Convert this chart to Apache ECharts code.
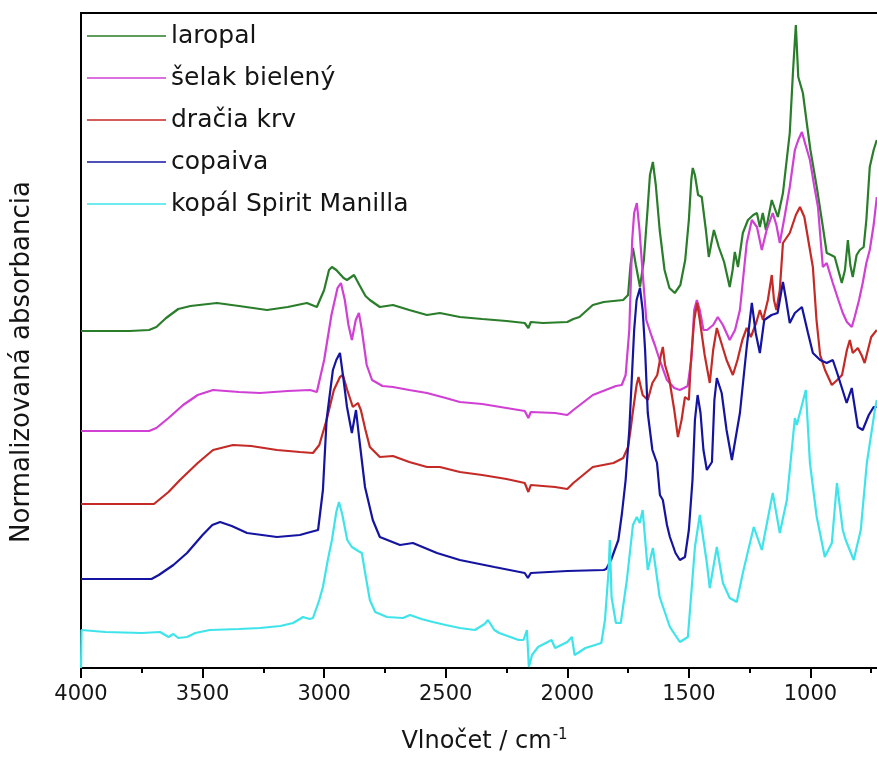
<!DOCTYPE html>
<html>
<head>
<meta charset="utf-8">
<title>FTIR spektrá živíc</title>
<script src="https://cdn.jsdelivr.net/npm/echarts@6/dist/echarts.min.js"></script>
<style>
  html, body { margin: 0; padding: 0; background: #fff; }
  #chart { width: 877px; height: 769px; }
</style>
</head>
<body>
<div id="chart"></div>
<script>
// Series names (legend order)
const seriesNames = ['laropal', 'šelak bielený', 'dračia krv', 'copaiva', 'kopál Spirit Manilla'];
const seriesColors = ['#2a7d2a', '#d040d4', '#c42a26', '#1414a0', '#3ee4ea'];

// Wavenumber axis ticks (cm-1)
const xTicks = [4000, 3500, 3000, 2500, 2000, 1500, 1000];

// Spectra: [wavenumber, normalised absorbance incl. vertical offset]
const laropal = [
  [4000,3.37],[3900,3.37],[3800,3.37],[3720,3.38],[3690,3.41],[3650,3.50],[3600,3.59],[3550,3.62],
  [3441,3.65],[3350,3.62],[3235,3.58],[3150,3.61],[3071,3.65],[3030,3.61],[3000,3.78],[2980,3.98],
  [2968,4.01],[2950,3.98],[2920,3.90],[2906,3.88],[2877,3.93],[2855,3.83],[2830,3.72],[2812,3.68],
  [2771,3.61],[2717,3.63],[2650,3.58],[2577,3.53],[2524,3.55],[2442,3.51],[2350,3.49],[2250,3.47],
  [2175,3.45],[2160,3.40],[2150,3.46],[2100,3.45],[2000,3.46],[1975,3.49],[1950,3.51],[1895,3.63],
  [1850,3.66],[1770,3.68],[1750,3.73],[1740,4.03],[1730,4.20],[1718,4.03],[1701,3.81],[1685,4.08],
  [1670,4.58],[1660,4.93],[1648,5.06],[1636,4.83],[1620,4.38],[1600,3.98],[1580,3.80],[1558,3.75],
  [1535,3.83],[1515,4.08],[1500,4.48],[1490,4.88],[1484,5.00],[1475,4.93],[1462,4.73],[1447,4.71],
  [1430,4.38],[1418,4.11],[1405,4.28],[1397,4.38],[1377,4.21],[1355,4.06],[1332,3.81],[1320,3.98],
  [1311,4.16],[1298,4.01],[1278,4.35],[1257,4.48],[1235,4.53],[1220,4.55],[1208,4.41],[1196,4.55],
  [1183,4.38],[1159,4.68],[1134,4.51],[1113,4.75],[1085,5.35],[1072,5.95],[1060,6.43],[1050,5.91],
  [1031,5.75],[1015,5.45],[1000,5.18],[974,4.81],[950,4.43],[933,4.15],[915,4.13],[900,4.11],
  [880,3.93],[871,3.85],[858,3.98],[846,4.28],[836,4.03],[826,3.91],[810,4.13],[797,4.18],
  [781,4.21],[770,4.48],[756,5.01],[740,5.18],[727,5.28]
];

const selak = [
  [4000,2.37],[3720,2.37],[3690,2.40],[3640,2.50],[3580,2.63],[3520,2.73],[3457,2.78],[3350,2.76],
  [3264,2.75],[3150,2.77],[3058,2.78],[3030,2.76],[3000,3.08],[2970,3.53],[2945,3.80],[2931,3.85],
  [2915,3.68],[2900,3.43],[2886,3.28],[2870,3.48],[2857,3.55],[2845,3.38],[2825,3.03],[2803,2.88],
  [2760,2.82],[2717,2.81],[2650,2.78],[2577,2.75],[2500,2.70],[2442,2.66],[2350,2.64],[2250,2.60],
  [2175,2.57],[2160,2.50],[2150,2.56],[2050,2.55],[2000,2.53],[1975,2.58],[1895,2.73],[1800,2.82],
  [1776,2.83],[1760,2.93],[1745,3.38],[1733,4.28],[1725,4.55],[1714,4.65],[1703,4.38],[1690,3.95],
  [1675,3.48],[1652,3.31],[1640,3.23],[1620,3.08],[1590,2.88],[1560,2.80],[1537,2.78],[1520,2.80],
  [1505,2.82],[1490,3.08],[1478,3.58],[1467,3.68],[1455,3.58],[1440,3.38],[1425,3.38],[1400,3.43],
  [1381,3.51],[1360,3.43],[1332,3.28],[1310,3.38],[1290,3.58],[1262,4.25],[1241,4.48],[1220,4.41],
  [1200,4.18],[1180,4.38],[1155,4.55],[1140,4.43],[1126,4.25],[1105,4.53],[1085,4.81],[1064,5.18],
  [1050,5.28],[1035,5.36],[1020,5.23],[1002,5.08],[985,4.83],[969,4.61],[949,4.01],[933,4.05],
  [908,3.85],[885,3.68],[867,3.55],[850,3.46],[830,3.41],[818,3.51],[800,3.68],[785,3.85],
  [770,4.05],[756,4.18],[740,4.43],[727,4.71]
];

const dracia = [
  [4000,1.64],[3700,1.64],[3680,1.68],[3640,1.76],[3593,1.88],[3520,2.05],[3457,2.18],[3375,2.23],
  [3300,2.22],[3194,2.18],[3100,2.16],[3046,2.15],[3020,2.23],[2990,2.48],[2960,2.78],[2935,2.91],
  [2923,2.93],[2905,2.78],[2882,2.61],[2861,2.65],[2849,2.58],[2830,2.38],[2812,2.21],[2771,2.11],
  [2717,2.12],[2650,2.06],[2577,2.01],[2524,2.01],[2442,1.96],[2350,1.93],[2250,1.89],[2175,1.85],
  [2160,1.76],[2150,1.83],[2050,1.81],[2000,1.79],[1975,1.85],[1895,2.01],[1810,2.05],[1770,2.10],
  [1750,2.21],[1740,2.38],[1731,2.55],[1715,2.83],[1707,2.91],[1690,2.73],[1669,2.68],[1650,2.85],
  [1630,2.93],[1615,3.13],[1607,3.21],[1598,3.03],[1580,2.88],[1560,2.58],[1545,2.31],[1530,2.48],
  [1516,2.71],[1500,2.68],[1492,3.05],[1478,3.48],[1466,3.65],[1455,3.48],[1435,3.13],[1414,2.85],
  [1400,3.18],[1385,3.40],[1370,3.28],[1345,3.08],[1319,2.93],[1300,3.08],[1280,3.28],[1262,3.40],
  [1245,3.31],[1222,3.46],[1208,3.58],[1195,3.48],[1175,3.68],[1159,3.93],[1150,3.68],[1140,3.58],
  [1126,3.78],[1113,4.25],[1085,4.35],[1060,4.53],[1043,4.61],[1025,4.51],[990,4.01],[975,3.48],
  [960,3.13],[940,2.98],[912,2.83],[890,2.88],[870,2.93],[850,3.18],[838,3.28],[826,3.15],
  [805,3.20],[790,3.13],[777,3.05],[750,3.31],[727,3.38]
];

const copaiva = [
  [4000,0.89],[3710,0.89],[3680,0.93],[3620,1.03],[3564,1.15],[3500,1.33],[3460,1.43],[3428,1.46],
  [3380,1.42],[3317,1.35],[3194,1.31],[3100,1.33],[3071,1.35],[3025,1.38],[3005,1.78],[2990,2.48],
  [2964,2.98],[2950,3.08],[2935,3.15],[2920,2.88],[2906,2.61],[2886,2.35],[2869,2.58],[2855,2.28],
  [2832,1.81],[2800,1.48],[2771,1.31],[2688,1.23],[2635,1.25],[2536,1.15],[2442,1.08],[2300,1.01],
  [2175,0.95],[2162,0.90],[2150,0.95],[2000,0.97],[1850,0.98],[1840,0.99],[1820,1.08],[1790,1.28],
  [1775,1.55],[1760,1.88],[1745,2.38],[1735,2.88],[1725,3.38],[1715,3.68],[1701,3.80],[1690,3.58],
  [1680,3.18],[1669,2.55],[1650,2.18],[1631,2.05],[1619,1.73],[1607,1.68],[1590,1.43],[1578,1.31],
  [1555,1.15],[1537,1.08],[1516,1.11],[1500,1.38],[1485,1.88],[1475,2.48],[1464,2.73],[1452,2.55],
  [1440,2.18],[1426,1.98],[1405,2.06],[1395,2.68],[1385,2.90],[1365,2.75],[1345,2.38],[1323,2.08],
  [1290,2.55],[1262,3.21],[1241,3.65],[1225,3.35],[1208,3.15],[1190,3.48],[1160,3.53],[1135,3.55],
  [1113,3.86],[1100,3.68],[1085,3.45],[1064,3.55],[1035,3.61],[1010,3.35],[990,3.15],[960,3.08],
  [933,3.05],[908,3.08],[890,2.95],[851,2.65],[830,2.80],[805,2.41],[785,2.38],[760,2.53],
  [740,2.61],[727,2.61]
];

const kopal = [
  [4000,0.00],[3998,0.38],[3900,0.36],[3750,0.35],[3675,0.36],[3640,0.31],[3620,0.34],[3600,0.30],
  [3564,0.31],[3530,0.35],[3470,0.38],[3350,0.39],[3264,0.40],[3180,0.42],[3128,0.45],[3100,0.49],
  [3087,0.51],[3060,0.49],[3046,0.50],[3020,0.68],[3005,0.81],[2985,1.08],[2968,1.28],[2950,1.56],
  [2939,1.66],[2925,1.53],[2905,1.28],[2886,1.21],[2860,1.17],[2845,1.15],[2830,0.93],[2812,0.68],
  [2790,0.56],[2742,0.51],[2676,0.50],[2647,0.53],[2600,0.49],[2553,0.46],[2500,0.43],[2442,0.40],
  [2380,0.38],[2340,0.44],[2326,0.48],[2300,0.38],[2280,0.35],[2200,0.28],[2180,0.28],[2166,0.38],
  [2158,0.01],[2145,0.13],[2120,0.21],[2065,0.28],[2050,0.20],[2000,0.26],[1981,0.31],[1970,0.13],
  [1925,0.20],[1860,0.25],[1845,0.48],[1830,0.98],[1825,1.28],[1818,0.71],[1800,0.45],[1780,0.45],
  [1755,0.88],[1730,1.43],[1714,1.51],[1702,1.45],[1690,1.58],[1669,0.98],[1648,1.20],[1620,0.71],
  [1578,0.41],[1537,0.26],[1504,0.31],[1475,1.21],[1455,1.53],[1447,1.55],[1426,1.05],[1414,0.80],
  [1385,1.21],[1360,0.85],[1332,0.70],[1303,0.66],[1278,0.95],[1233,1.41],[1200,1.18],[1155,1.75],
  [1126,1.35],[1097,1.68],[1064,2.50],[1056,2.43],[1019,2.78],[1002,2.05],[974,1.51],[941,1.11],
  [912,1.25],[891,1.85],[867,1.38],[855,1.28],[822,1.08],[793,1.38],[768,2.05],[735,2.58],[727,2.68]
];

const spectra = [laropal, selak, dracia, copaiva, kopal];

const chart = echarts.init(document.getElementById('chart'), null, { renderer: 'canvas' });

const FONT = 'DejaVu Sans';
const TEXT = '#151515';

chart.setOption({
  animation: false,
  backgroundColor: '#ffffff',
  // The frame runs past the right edge of the canvas, so only its
  // top and left sides are visible.
  grid: {
    left: 81, top: 13, width: 851, height: 655,
    outerBoundsMode: 'none',
    containLabel: false,
    show: true, borderColor: '#000', borderWidth: 2, backgroundColor: 'transparent'
  },
  legend: {
    orient: 'vertical',
    left: 82,
    top: 18,
    itemWidth: 79,
    itemHeight: 10,
    itemGap: 16,
    icon: 'path://M0,4 L100,4 L100,6 L0,6 Z',
    textStyle: { fontFamily: FONT, fontSize: 25, color: TEXT, lineHeight: 26 },
    data: seriesNames
  },
  xAxis: {
    type: 'value',
    inverse: true,
    min: 500,
    max: 4000,
    interval: 500,
    name: 'Vlnočet / cm{sup|-1}',
    nameLocation: 'middle',
    nameGap: 60,
    nameTextStyle: {
      fontFamily: FONT, fontSize: 24, color: TEXT,
      // the visible part of the axis ends at the canvas edge; centre the title on it
      padding: [0, 44, 0, 0],
      rich: { sup: { fontFamily: FONT, fontSize: 15, color: TEXT, verticalAlign: 'top', padding: [0, 0, 12, 1] } }
    },
    axisLine: { show: true, onZero: false, lineStyle: { color: '#000', width: 2 } },
    axisTick: { show: true, inside: false, length: 10, lineStyle: { color: '#000', width: 2 } },
    minorTick: { show: true, splitNumber: 2, length: 5, lineStyle: { color: '#000', width: 2 } },
    axisLabel: {
      margin: 16,
      fontFamily: FONT, fontSize: 21, color: TEXT,
      formatter: v => (xTicks.indexOf(v) >= 0 ? String(v) : '')
    },
    splitLine: { show: false }
  },
  yAxis: {
    type: 'value',
    min: 0,
    max: 6.55,
    axisLine: { show: true, lineStyle: { color: '#000', width: 2 } },
    axisTick: { show: false },
    axisLabel: { show: false },
    splitLine: { show: false }
  },
  graphic: [{
    type: 'text',
    x: 22,
    y: 362,
    rotation: Math.PI / 2,
    style: {
      text: 'Normalizovaná absorbancia',
      fontFamily: FONT,
      fontSize: 26,
      fill: TEXT,
      align: 'center',
      verticalAlign: 'middle'
    }
  }],
  series: spectra.map((d, i) => ({
    name: seriesNames[i],
    type: 'line',
    data: d,
    showSymbol: false,
    symbol: 'none',
    smooth: false,
    clip: true,
    lineStyle: { color: seriesColors[i], width: 2.2 },
    itemStyle: { color: seriesColors[i] },
    z: 2
  }))
});
</script>
</body>
</html>
